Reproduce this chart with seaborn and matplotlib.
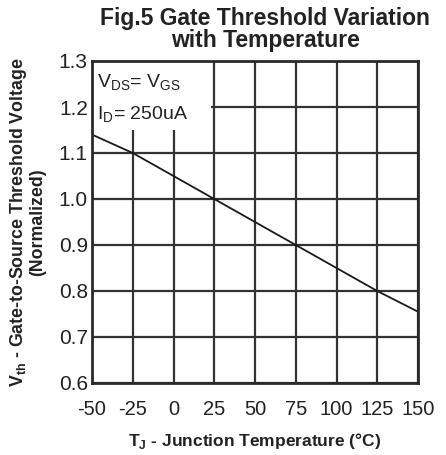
import matplotlib
matplotlib.use("Agg")
import matplotlib.pyplot as plt
import seaborn as sns
import pandas as pd
from matplotlib.patches import Rectangle

temps = [-50, -25, 0, 25, 50, 75, 100, 125, 150]
vth_norm = [1.14, 1.10, 1.05, 1.00, 0.95, 0.90, 0.85, 0.80, 0.755]
x_ticks = [-50, -25, 0, 25, 50, 75, 100, 125, 150]
y_ticks = [0.6, 0.7, 0.8, 0.9, 1.0, 1.1, 1.2, 1.3]

sns.set_theme(style="white")
plt.rcParams['font.family'] = ['Liberation Sans', 'DejaVu Sans']

df = pd.DataFrame({"T": temps, "V": vth_norm})

fig = plt.figure(figsize=(4.46, 4.55), dpi=100)
ax = fig.add_axes([92/446, 1 - 383/455, (418-92)/446, (383-61)/455])

ax.set_xlim(-50, 150)
ax.set_ylim(0.6, 1.3)
ax.set_xticks(x_ticks)
ax.set_yticks(y_ticks)
ax.set_xticklabels([str(t) for t in x_ticks])
ax.set_yticklabels([f"{v:.1f}" for v in y_ticks])
ax.grid(True, color="#333333", linewidth=1.6)
ax.set_axisbelow(True)

# white legend box covering the grid at upper left
ax.add_patch(Rectangle((-50, 1.15), 73, 0.15, facecolor="white", edgecolor="none", zorder=1.5))

sns.lineplot(data=df, x="T", y="V", ax=ax, color="#1a1a1a", linewidth=1.3, zorder=3)

for s in ax.spines.values():
    s.set_color("#2a2a2a")
    s.set_linewidth(2)
    s.set_zorder(4)

ax.tick_params(axis="y", labelsize=15, colors="#222222", length=0, pad=3)
ax.tick_params(axis="x", labelsize=14.5, colors="#222222", length=0, pad=12)

ax.text(-47, 1.252, r"V$_{\mathregular{DS}}$= V$_{\mathregular{GS}}$", fontsize=14, color="#222222", va="center", zorder=5)
ax.text(-47, 1.182, r"I$_{\mathregular{D}}$= 250uA", fontsize=14, color="#222222", va="center", zorder=5)

ax.set_xlabel(r"T$_{\mathregular{J}}$ - Junction Temperature (°C)", fontsize=12.5, fontweight="bold", color="#222222", labelpad=9)
ax.set_ylabel("V$_{\\mathregular{th}}$ - Gate-to-Source Threshold Voltage\n(Normalized)", fontsize=12.8, fontweight="bold", color="#222222", labelpad=9, linespacing=1.05)

fig.text(0.595, 0.885, "Fig.5 Gate Threshold Variation\nwith Temperature", ha="center", va="bottom",
         fontsize=16.5, fontweight="bold", color="#222222", linespacing=0.95)

fig.savefig("out.png", dpi=100)
